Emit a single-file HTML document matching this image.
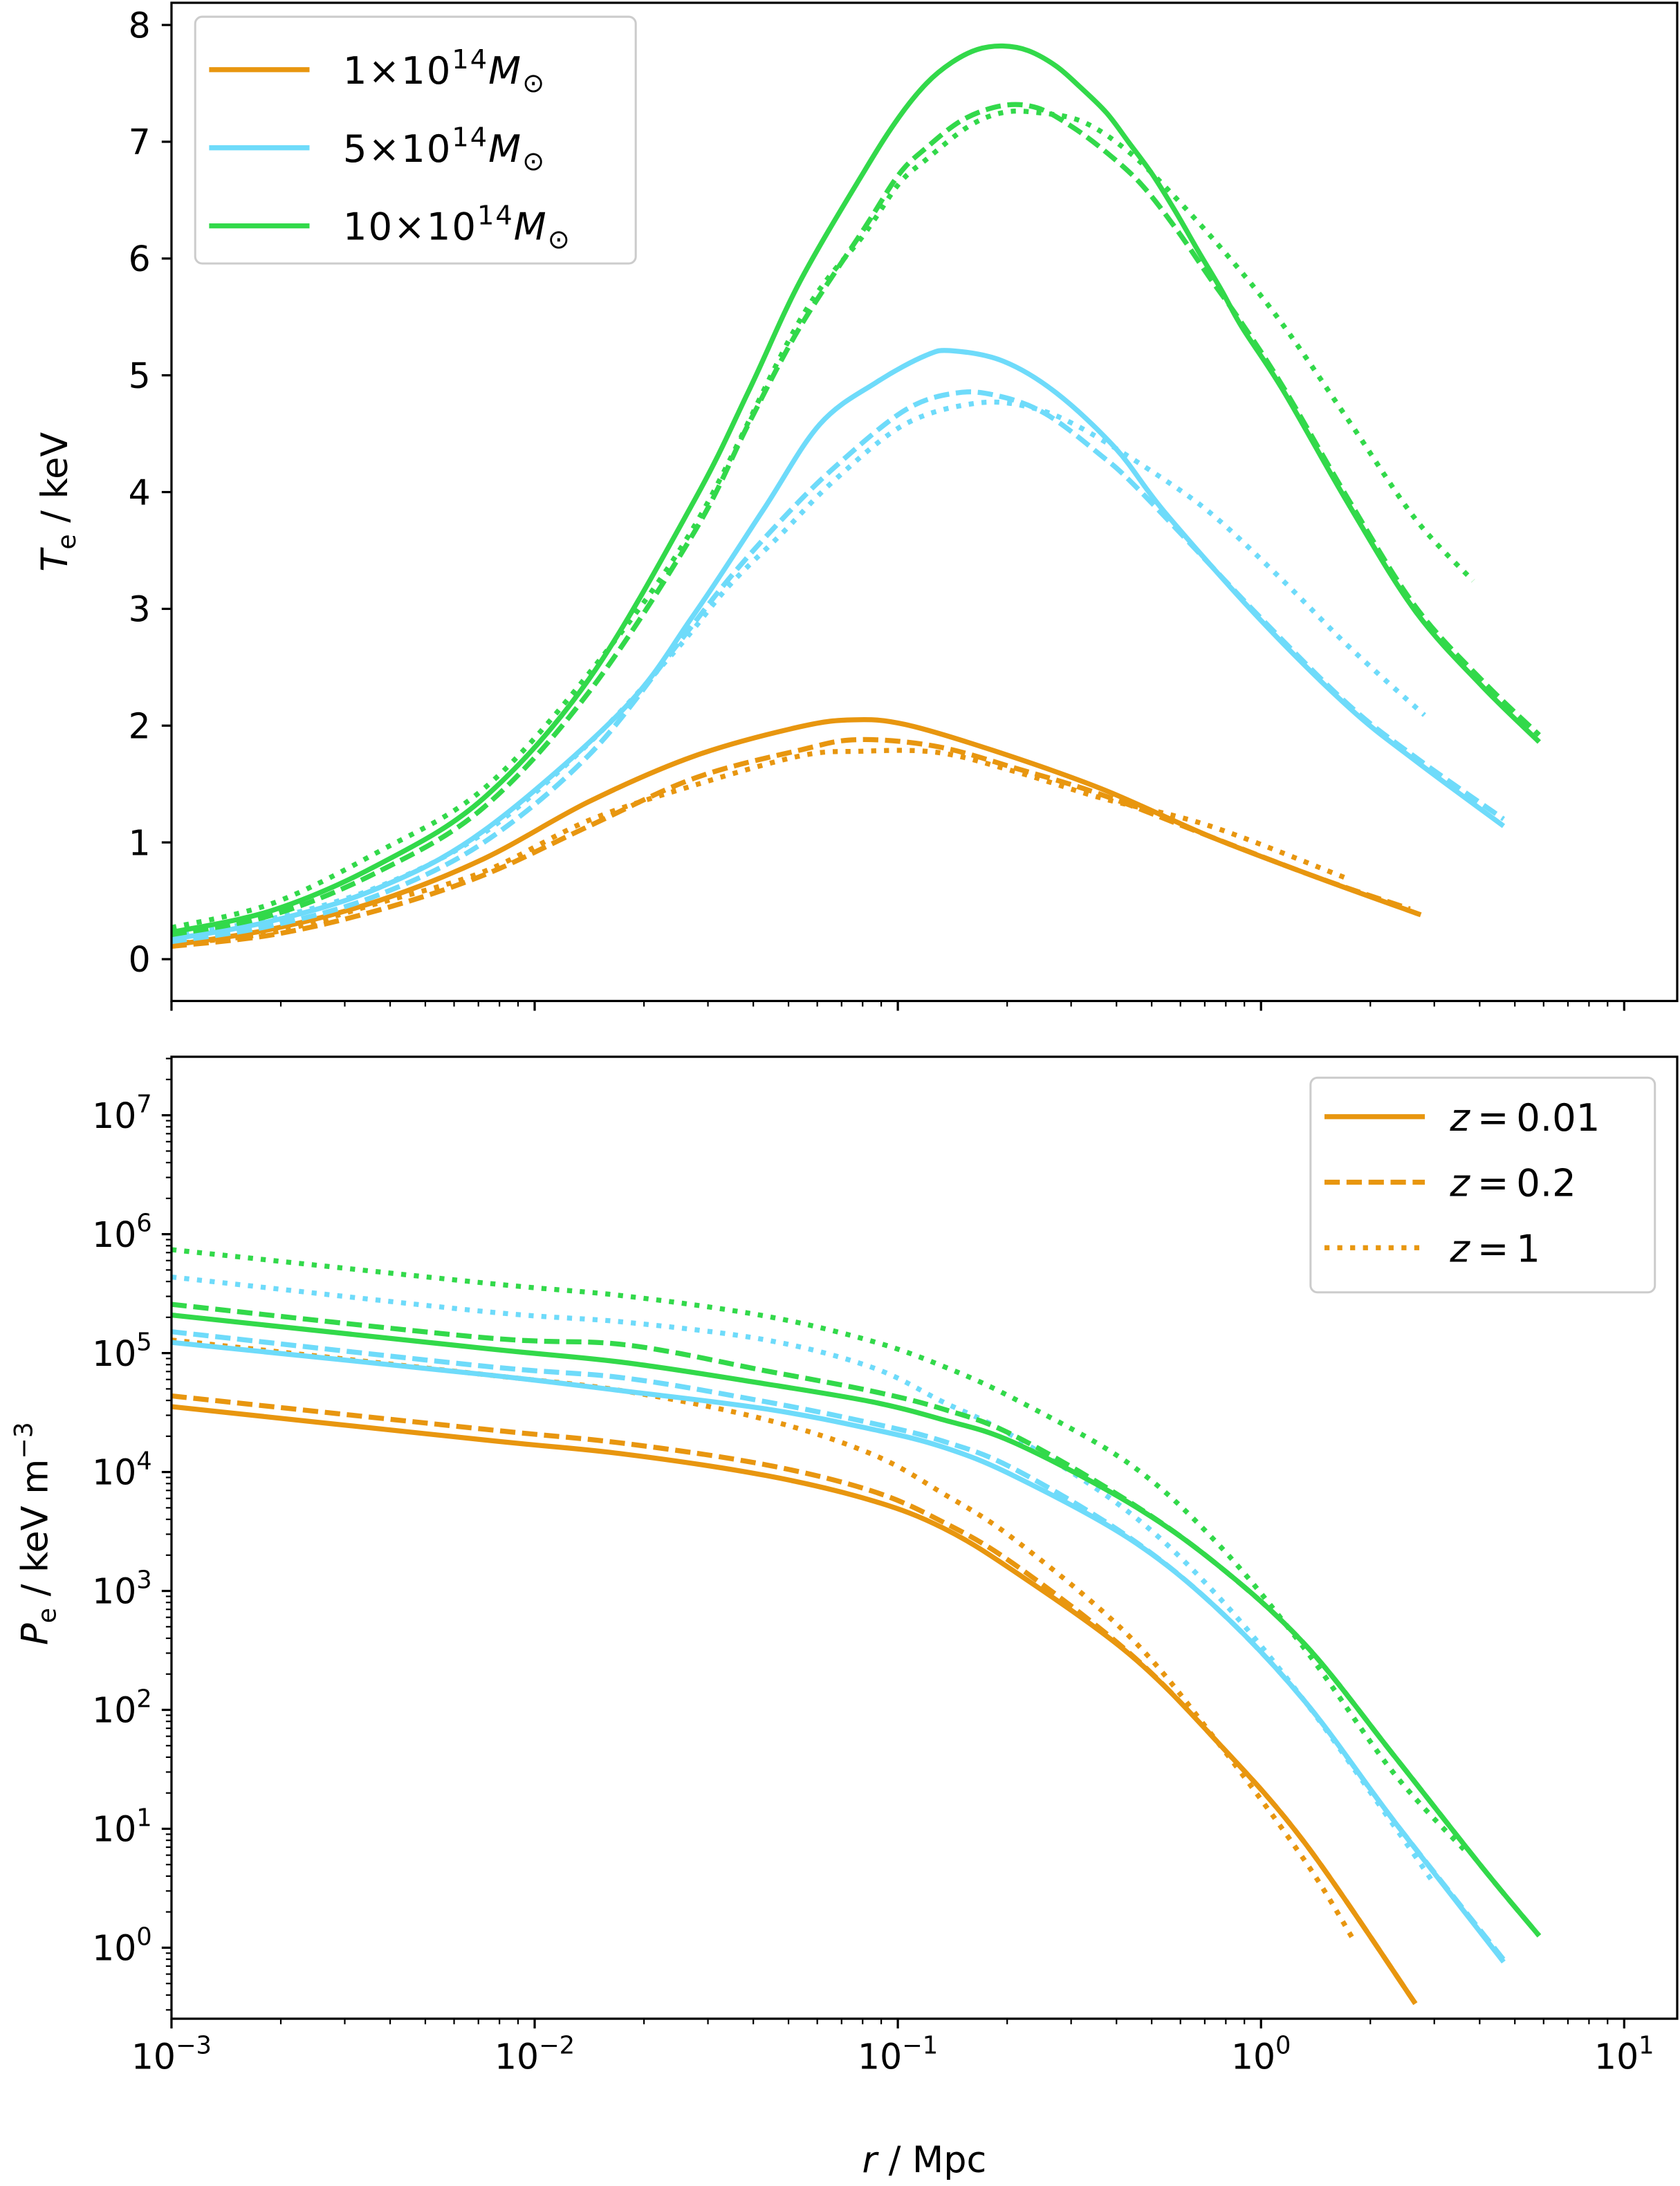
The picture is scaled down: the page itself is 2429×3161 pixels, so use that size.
<!DOCTYPE html>
<html><head><meta charset="utf-8">
<style>
html,body{margin:0;padding:0;background:#fff;}
svg{display:block;}
text{font-family:"DejaVu Sans","Liberation Sans",sans-serif;fill:#000;}
</style></head>
<body>
<svg id="chart" width="2429" height="3161" viewBox="0 0 1205 1568" preserveAspectRatio="none" xmlns="http://www.w3.org/2000/svg">
<g id="topPanel"></g>
<g id="botPanel"></g>
</svg>
<script>
// ---- data (log10 r in Mpc) ----
const seriesNames = ['m1-z001','m1-z02','m1-z1','m5-z001','m5-z02','m5-z1','m10-z001','m10-z02','m10-z1'];
const seriesMass = [0,0,0,1,1,1,2,2,2];
const seriesZ = [0,1,2,0,1,2,0,1,2];
// temperature (keV)
const tLogR_m1z001 = [-3,-2.72,-2.43,-2.14,-1.85,-1.56,-1.27,-1.12,-0.98,-0.74,-0.44,-0.14,0.155,0.44];
const tVal_m1z001  = [0.12,0.26,0.50,0.86,1.35,1.74,1.99,2.05,2.01,1.79,1.46,1.05,0.70,0.38];
const tLogR_m1z02 = [-3,-2.72,-2.43,-2.14,-1.85,-1.56,-1.27,-1.11,-0.89,-0.67,-0.44,-0.14,0.155,0.41];
const tVal_m1z02  = [0.11,0.21,0.42,0.72,1.14,1.55,1.79,1.88,1.82,1.63,1.41,1.05,0.70,0.43];
const tLogR_m1z1 = [-3,-2.72,-2.43,-2.14,-1.85,-1.56,-1.27,-1.11,-0.89,-0.67,-0.44,-0.14,0.23];
const tVal_m1z1  = [0.13,0.23,0.48,0.75,1.19,1.49,1.74,1.78,1.77,1.60,1.38,1.14,0.70];
const tLogR_m5z001 = [-3,-2.72,-2.43,-2.14,-1.759,-1.564,-1.37,-1.215,-1.059,-0.923,-0.85,-0.709,-0.564,-0.399,-0.263,0.0,0.244,0.425,0.668];
const tVal_m5z001  = [0.17,0.33,0.61,1.10,2.13,2.94,3.85,4.58,4.94,5.17,5.21,5.12,4.85,4.37,3.82,2.90,2.15,1.70,1.14];
const tLogR_m5z02 = [-3,-2.72,-2.43,-2.14,-1.85,-1.613,-1.467,-1.321,-1.175,-0.981,-0.836,-0.719,-0.593,-0.447,-0.33,0.0,0.244,0.425,0.668];
const tVal_m5z02  = [0.15,0.29,0.55,1.0,1.75,2.67,3.25,3.76,4.21,4.70,4.85,4.82,4.67,4.33,4.00,2.92,2.17,1.73,1.2];
const tLogR_m5z1 = [-3,-2.72,-2.43,-2.14,-1.85,-1.613,-1.467,-1.321,-1.175,-0.981,-0.787,-0.641,-0.496,-0.263,-0.12,0.061,0.244,0.45];
const tVal_m5z1  = [0.2,0.35,0.62,1.08,1.85,2.64,3.19,3.64,4.10,4.58,4.76,4.73,4.55,4.10,3.77,3.24,2.67,2.09];
const tLogR_m10z001 = [-3,-2.72,-2.43,-2.14,-1.85,-1.56,-1.41,-1.27,-1.092,-0.997,-0.921,-0.851,-0.781,-0.711,-0.641,-0.565,-0.502,-0.426,-0.363,-0.299,-0.235,-0.172,-0.109,-0.052,0.061,0.244,0.425,0.608,0.766];
const tVal_m10z001  = [0.23,0.42,0.81,1.38,2.40,3.93,4.87,5.80,6.75,7.21,7.50,7.68,7.79,7.82,7.78,7.65,7.48,7.25,6.99,6.72,6.40,6.06,5.73,5.41,4.87,3.88,2.98,2.34,1.86];
const tLogR_m10z02 = [-3,-2.72,-2.43,-2.14,-1.85,-1.56,-1.41,-1.27,-1.092,-0.997,-0.921,-0.82,-0.711,-0.616,-0.521,-0.426,-0.331,-0.235,-0.14,-0.058,0.061,0.244,0.425,0.608,0.766];
const tVal_m10z02  = [0.21,0.38,0.75,1.30,2.29,3.66,4.59,5.41,6.26,6.72,6.95,7.19,7.31,7.29,7.13,6.91,6.64,6.26,5.83,5.47,4.90,3.92,3.02,2.39,1.92];
const tLogR_m10z1 = [-3,-2.72,-2.43,-2.14,-1.85,-1.56,-1.27,-1.092,-0.997,-0.921,-0.806,-0.711,-0.616,-0.49,-0.363,-0.235,-0.077,0.061,0.244,0.425,0.584];
const tVal_m10z1  = [0.27,0.48,0.92,1.46,2.45,3.71,5.47,6.21,6.64,6.85,7.13,7.25,7.25,7.17,6.91,6.52,5.97,5.43,4.60,3.77,3.24];
// pressure (log10 keV m^-3)
const pLogR_m1z001 = [-3,-2.139,-1.751,-1.362,-1.071,-0.876,-0.682,-0.363,-0.12,0.121,0.425];
const pVal_m1z001  = [4.55,4.27,4.15,3.97,3.76,3.53,3.17,2.47,1.73,0.88,-0.47];
const pLogR_m1z02 = [-3,-2.139,-1.751,-1.362,-1.071,-0.876,-0.682,-0.363,-0.12,0.121,0.425];
const pVal_m1z02  = [4.64,4.36,4.24,4.06,3.84,3.58,3.23,2.48,1.73,0.88,-0.47];
const pLogR_m1z1 = [-3,-2.139,-1.751,-1.362,-1.071,-0.876,-0.682,-0.363,-0.12,0.121,0.256];
const pVal_m1z1  = [5.11,4.82,4.68,4.44,4.15,3.82,3.44,2.62,1.73,0.73,0.06];
const pLogR_m5z001 = [-3,-2.139,-1.751,-1.362,-1.071,-0.876,-0.682,-0.363,-0.12,0.121,0.365,0.668];
const pVal_m5z001  = [5.09,4.82,4.68,4.53,4.36,4.21,3.97,3.44,2.85,2.07,1.07,-0.12];
const pLogR_m5z02 = [-3,-2.139,-1.751,-1.362,-1.071,-0.876,-0.682,-0.363,-0.12,0.121,0.365,0.668];
const pVal_m5z02  = [5.18,4.89,4.79,4.59,4.41,4.26,4.03,3.45,2.85,2.07,1.07,-0.10];
const pLogR_m5z1 = [-3,-2.139,-1.751,-1.362,-1.071,-0.876,-0.682,-0.363,-0.12,0.121,0.365,0.474];
const pVal_m5z1  = [5.64,5.35,5.26,5.11,4.88,4.59,4.30,3.66,2.96,2.07,1.03,0.55];
const pLogR_m10z001 = [-3,-2.139,-1.751,-1.362,-1.071,-0.876,-0.682,-0.363,-0.12,0.121,0.365,0.608,0.766];
const pVal_m10z001  = [5.32,5.04,4.92,4.74,4.59,4.44,4.25,3.74,3.22,2.55,1.62,0.68,0.10];
const pLogR_m10z02 = [-3,-2.139,-1.751,-1.362,-1.071,-0.876,-0.682,-0.363,-0.12,0.121,0.365,0.608,0.766];
const pVal_m10z02  = [5.41,5.13,5.07,4.85,4.68,4.53,4.31,3.75,3.22,2.55,1.62,0.68,0.10];
const pLogR_m10z1 = [-3,-2.139,-1.751,-1.362,-1.071,-0.876,-0.682,-0.363,-0.12,0.121,0.365,0.57];
const pVal_m10z1  = [5.87,5.59,5.48,5.31,5.10,4.89,4.62,4.07,3.40,2.51,1.47,0.79];
const tempX = [tLogR_m1z001,tLogR_m1z02,tLogR_m1z1,tLogR_m5z001,tLogR_m5z02,tLogR_m5z1,tLogR_m10z001,tLogR_m10z02,tLogR_m10z1];
const tempY = [tVal_m1z001,tVal_m1z02,tVal_m1z1,tVal_m5z001,tVal_m5z02,tVal_m5z1,tVal_m10z001,tVal_m10z02,tVal_m10z1];
const presX = [pLogR_m1z001,pLogR_m1z02,pLogR_m1z1,pLogR_m5z001,pLogR_m5z02,pLogR_m5z1,pLogR_m10z001,pLogR_m10z02,pLogR_m10z1];
const presY = [pVal_m1z001,pVal_m1z02,pVal_m1z1,pVal_m5z001,pVal_m5z02,pVal_m5z1,pVal_m10z001,pVal_m10z02,pVal_m10z1];
const xTickExps = [-3,-2,-1,0,1];
const tTicks = [0,1,2,3,4,5,6,7,8];
const pTickExps = [0,1,2,3,4,5,6,7];
const massLabels = ['1','5','10'];
const zLabels = ['0.01','0.2','1'];

const colors = ['#e8960f','#6edbfa','#32d94a'];
const dashes = ['none','11,4.8','3.6,5.6'];
const NS='http://www.w3.org/2000/svg';
const L=123,R=1203;
const X0=-3,X1=1.146;
const xs=v=>L+(v-X0)/(X1-X0)*(R-L);
const T0=2,T1=718, tMin=-0.358,tMax=8.19;
const ty=v=>T1-(v-tMin)/(tMax-tMin)*(T1-T0);
const B0=758,B1=1448, pMin=-0.597,pMax=7.492;
const py=v=>B1-(v-pMin)/(pMax-pMin)*(B1-B0);

function el(tag,attrs,parent){const e=document.createElementNS(NS,tag);for(const k in attrs)e.setAttribute(k,attrs[k]);parent.appendChild(e);return e;}
function smooth(pts){
  let d='M'+pts[0][0].toFixed(2)+','+pts[0][1].toFixed(2);
  for(let i=0;i<pts.length-1;i++){
    const p0=pts[Math.max(0,i-1)],p1=pts[i],p2=pts[i+1],p3=pts[Math.min(pts.length-1,i+2)];
    const c1=[p1[0]+(p2[0]-p0[0])/6,p1[1]+(p2[1]-p0[1])/6];
    const c2=[p2[0]-(p3[0]-p1[0])/6,p2[1]-(p3[1]-p1[1])/6];
    d+='C'+c1.map(v=>v.toFixed(2)).join(',')+' '+c2.map(v=>v.toFixed(2)).join(',')+' '+p2[0].toFixed(2)+','+p2[1].toFixed(2);
  }
  return d;
}
const topG=document.getElementById('topPanel'), botG=document.getElementById('botPanel');

const defs=el('defs',{},document.getElementById('chart'));
const cp1=el('clipPath',{id:'ct'},defs); el('rect',{x:L,y:T0,width:R-L,height:T1-T0},cp1);
const cp2=el('clipPath',{id:'cb'},defs); el('rect',{x:L,y:B0,width:R-L,height:B1-B0},cp2);

const gT=el('g',{'clip-path':'url(#ct)'},topG);
const gB=el('g',{'clip-path':'url(#cb)'},botG);
for(let i=0;i<9;i++){
  const m=seriesMass[i], z=seriesZ[i];
  const pT=el('path',{d:smooth(tempX[i].map((v,j)=>[xs(v),ty(tempY[i][j])])),fill:'none',stroke:colors[m],'stroke-width':3.6,'stroke-dasharray':dashes[z]},gT);
  
  
  const pB=el('path',{d:smooth(presX[i].map((v,j)=>[xs(v),py(presY[i][j])])),fill:'none',stroke:colors[m],'stroke-width':3.6,'stroke-dasharray':dashes[z]},gB);
  
  
}

for(const [g,y0,y1] of [[topG,T0,T1],[botG,B0,B1]]){
  const f=el('rect',{x:L,y:y0,width:R-L,height:y1-y0,fill:'none',stroke:'#000','stroke-width':1.6},g);
  
  
}
for(const [g,yb] of [[topG,T1],[botG,B1]]){
  for(let e=-3;e<=1;e++){
    for(let k=1;k<10;k++){
      const v=e+Math.log10(k); if(v>X1) break;
      const x=xs(v), len=k===1?7:4;
      el('line',{x1:x,x2:x,y1:yb,y2:yb+len,stroke:'#000','stroke-width':k===1?1.6:1.1},g);
    }
  }
}
xTickExps.forEach(e=>{
  const t=el('text',{x:xs(e),y:1484,'font-size':25,'text-anchor':'middle'},botG);
  
  
  t.innerHTML='10<tspan font-size="17.5" dy="-11">'+(e<0?'\u2212'+(-e):e)+'</tspan>';
});
tTicks.forEach(v=>{
  const y=ty(v);
  el('line',{x1:L-7,x2:L,y1:y,y2:y,stroke:'#000','stroke-width':1.6},topG);
  const t=el('text',{x:L-15,y:y+9,'font-size':25,'text-anchor':'end'},topG);
  
  
  t.textContent=v;
});
for(let e=-1;e<=7;e++){
  for(let k=1;k<10;k++){
    const v=e+Math.log10(k); if(v<pMin||v>pMax) continue;
    const y=py(v);
    el('line',{x1:L-(k===1?7:4),x2:L,y1:y,y2:y,stroke:'#000','stroke-width':k===1?1.6:1.1},botG);
  }
}
pTickExps.forEach(e=>{
  const y=py(e);
  const t=el('text',{x:L-14,y:y+9,'font-size':25,'text-anchor':'end'},botG);
  
  
  t.innerHTML='10<tspan font-size="17.5" dy="-11">'+e+'</tspan>';
});
const yt=el('text',{x:0,y:0,'font-size':26,'text-anchor':'middle',transform:'translate(48,360) rotate(-90)'},topG);


yt.innerHTML='<tspan font-style="italic">T</tspan><tspan font-size="18" dy="6">e</tspan><tspan dy="-6"> / keV</tspan>';
const yb=el('text',{x:0,y:0,'font-size':26,'text-anchor':'middle',transform:'translate(34,1100) rotate(-90)'},botG);


yb.innerHTML='<tspan font-style="italic">P</tspan><tspan font-size="18" dy="6">e</tspan><tspan dy="-6"> / keV m</tspan><tspan font-size="18" dy="-11">\u22123</tspan>';
const xt=el('text',{x:663,y:1558,'font-size':26,'text-anchor':'middle'},botG);


xt.innerHTML='<tspan font-style="italic">r</tspan> / Mpc';

const lg1=el('g',{},topG);


el('rect',{x:140,y:12,width:316,height:177,rx:5,fill:'#fff',stroke:'#ccc','stroke-width':1.5,'fill-opacity':0.8},lg1);
massLabels.forEach((m,i)=>{
  const y=50+i*56;
  el('line',{x1:150,x2:222,y1:y,y2:y,stroke:colors[i],'stroke-width':3.6},lg1);
  const t=el('text',{x:246,y:y+10,'font-size':27,'letter-spacing':'1'},lg1);
  
  
  t.innerHTML=m+'\u00d710<tspan font-size="19" dy="-11">14</tspan><tspan dy="11" font-style="italic">M</tspan><tspan font-size="19" dy="6">\u2299</tspan>';
});
const lg2=el('g',{},botG);


el('rect',{x:940,y:773,width:247,height:154,rx:5,fill:'#fff',stroke:'#ccc','stroke-width':1.5,'fill-opacity':0.8},lg2);
zLabels.forEach((z,i)=>{
  const y=801+i*47;
  el('line',{x1:950,x2:1022,y1:y,y2:y,stroke:colors[0],'stroke-width':3.6,'stroke-dasharray':dashes[i]},lg2);
  const t=el('text',{x:1040,y:y+10,'font-size':27},lg2);
  
  
  t.innerHTML='<tspan font-style="italic">z</tspan>\u2009=\u2009'+z;
});
</script>
</body></html>
